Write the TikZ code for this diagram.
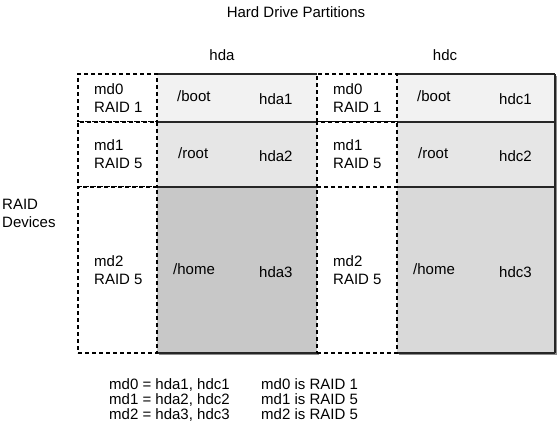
\documentclass[tikz,border=0pt]{standalone}
\usepackage{fontspec}
\setmainfont{Liberation Sans}
\usepackage{tikz}
\usetikzlibrary{positioning}
\tikzset{
    partnode/.style = {rectangle, draw=none, anchor=north west, inner sep=0em, outer sep=0em},
    mdnode/.style = {rectangle, draw, dash pattern=on 4pt off 3pt, line width=1.1pt, fill=white,
      anchor=north west, inner sep=0em, outer sep=0em},
    solidline/.style = {draw=black!85, line width=1.3pt},
    shadownode/.style = {fill=black!45},
    celltext/.style = {draw=none, fill=none, inner sep=0em, align=left, font=\fontsize{15}{18}\selectfont},
    notetext/.style = {draw=none, fill=none, inner sep=0em, align=left, font=\fontsize{15}{15}\selectfont},
}
\definecolor{bootgray}{RGB}{242, 242, 242}
\definecolor{rootgray}{RGB}{230, 230, 230}
\definecolor{homedark}{RGB}{200, 200, 200}
\definecolor{homelight}{RGB}{217, 217, 217}

\begin{document}
\begin{tikzpicture}[x=1pt, y=-1pt]
\useasboundingbox (0,0) rectangle (560,429);

% shadows behind the two drives
\fill [shadownode] (159,76) rectangle (319,355);
\fill [shadownode] (399,76) rectangle (557,355);

% partitions of hda and hdc
\node [partnode, fill=bootgray, minimum width=160pt, minimum height=48pt] (hdaone) at (157,74) {};
\node [partnode, fill=rootgray, minimum width=160pt, minimum height=65pt] (hdatwo) at (157,122) {};
\node [partnode, fill=homedark, minimum width=160pt, minimum height=166pt] (hdathree) at (157,187) {};
\node [partnode, fill=bootgray, minimum width=158pt, minimum height=48pt] (hdcone) at (397,74) {};
\node [partnode, fill=rootgray, minimum width=158pt, minimum height=65pt] (hdctwo) at (397,122) {};
\node [partnode, fill=homelight, minimum width=158pt, minimum height=166pt] (hdcthree) at (397,187) {};

\draw [solidline] (hdaone.north west) -- (hdaone.north east);
\draw [solidline] (hdaone.south west) -- (hdaone.south east);
\draw [solidline] (hdatwo.south west) -- (hdatwo.south east);
\draw [solidline] (hdathree.south west) -- (hdathree.south east);
\draw [solidline] (hdcone.north west) -- (hdcone.north east);
\draw [solidline] (hdcone.south west) -- (hdcone.south east);
\draw [solidline] (hdctwo.south west) -- (hdctwo.south east);
\draw [solidline] (hdcthree.south west) -- (hdcthree.south east);
\draw [solidline] (hdcone.north east) -- (hdcthree.south east);

% raid devices
\node [mdnode, minimum width=79pt, minimum height=48pt] (mdzeroa) at (78,74) {};
\node [mdnode, minimum width=79pt, minimum height=65pt] (mdonea) at (78,122) {};
\node [mdnode, minimum width=79pt, minimum height=166pt] (mdtwoa) at (78,187) {};
\node [mdnode, minimum width=80pt, minimum height=48pt] (mdzeroc) at (317,74) {};
\node [mdnode, minimum width=80pt, minimum height=65pt] (mdonec) at (317,122) {};
\node [mdnode, minimum width=80pt, minimum height=166pt] (mdtwoc) at (317,187) {};

\node [celltext, right=16pt of mdzeroa.west] (mdzeroatext) {md0\\RAID 1};
\node [celltext, right=16pt of mdonea.west] (mdoneatext) {md1\\RAID 5};
\node [celltext, right=16pt of mdtwoa.west] (mdtwoatext) {md2\\RAID 5};
\node [celltext, right=16pt of mdzeroc.west] (mdzeroctext) {md0\\RAID 1};
\node [celltext, right=16pt of mdonec.west] (mdonectext) {md1\\RAID 5};
\node [celltext, right=16pt of mdtwoc.west] (mdtwoctext) {md2\\RAID 5};

\node [celltext, right=20pt of hdaone.west, yshift=1.5pt] (bootatext) {/boot};
\node [celltext, right=21pt of hdatwo.west, yshift=1pt] (rootatext) {/root};
\node [celltext, right=16pt of hdathree.west, yshift=1pt] (homeatext) {/home};
\node [celltext, right=102pt of hdaone.west, yshift=-1pt] (hdaonetext) {hda1};
\node [celltext, right=102pt of hdatwo.west, yshift=-2pt] (hdatwotext) {hda2};
\node [celltext, right=102pt of hdathree.west, yshift=-2pt] (hdathreetext) {hda3};
\node [celltext, right=20pt of hdcone.west, yshift=1.5pt] (bootctext) {/boot};
\node [celltext, right=21pt of hdctwo.west, yshift=1pt] (rootctext) {/root};
\node [celltext, right=16pt of hdcthree.west, yshift=1pt] (homectext) {/home};
\node [celltext, right=102pt of hdcone.west, yshift=-1pt] (hdconetext) {hdc1};
\node [celltext, right=102pt of hdctwo.west, yshift=-2pt] (hdctwotext) {hdc2};
\node [celltext, right=102pt of hdcthree.west, yshift=-2pt] (hdcthreetext) {hdc3};

% headings
\node [celltext] (title) at (296,12) {Hard Drive Partitions};
\node [celltext] (hdahead) at (222,55) {hda};
\node [celltext] (hdchead) at (445,55) {hdc};
\node [celltext, anchor=west] (raiddevices) at (2,213) {RAID\\Devices};

% legend below
\node [notetext, anchor=north west] (mdmap) at (109,378)
    {md0 = hda1, hdc1\\md1 = hda2, hdc2\\md2 = hda3, hdc3};
\node [notetext, anchor=north west] (mdlevel) at (261,378)
    {md0 is RAID 1\\md1 is RAID 5\\md2 is RAID 5};
\end{tikzpicture}
\end{document}
